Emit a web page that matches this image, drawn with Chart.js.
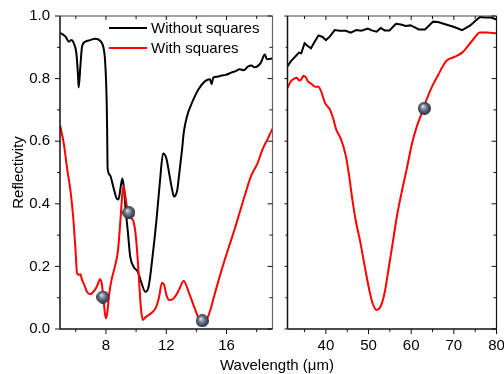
<!DOCTYPE html>
<html>
<head>
<meta charset="utf-8">
<script src="https://cdn.jsdelivr.net/npm/chart.js@4"></script>
<style>
  body { margin:0; background:#fff; }
  #wrap { position:relative; width:504px; height:374px; overflow:hidden; font-family:"Liberation Sans", Arial, sans-serif; }
  canvas { position:absolute; top:0; }
  #c1 { left:0; }
  #c2 { left:280px; }
  #xtitle { position:absolute; left:277px; top:357px; transform:translateX(-50%); font-size:15px; line-height:15px; white-space:nowrap; color:#000; }
</style>
</head>
<body>
<div id="wrap">
  <canvas id="c1" width="280" height="374"></canvas>
  <canvas id="c2" width="224" height="374"></canvas>
  <div id="xtitle">Wavelength (μm)</div>
</div>
<script>
// series names
const seriesNames = ["Without squares", "With squares"];

// left panel (5 - 19 um)
const wlBlackNear = [4.95, 5.32, 5.54, 5.71, 5.86, 6.04, 6.15, 6.19, 6.30, 6.41, 6.63, 6.95, 7.28, 7.61, 7.82, 7.92, 8.0, 8.05, 8.08, 8.11, 8.26, 8.48, 8.70, 8.83, 8.98, 9.09, 9.18, 9.31, 9.46, 9.61, 9.83, 10.11, 10.33, 10.61, 10.83, 11.09, 11.35, 11.59, 11.79, 12.01, 12.23, 12.44, 12.51, 12.73, 12.84, 13.05, 13.16, 13.38, 13.71, 14.14, 14.58, 14.90, 15.01, 15.12, 15.40, 15.67, 15.95, 16.32, 16.60, 16.87, 17.15, 17.41, 17.65, 17.85, 18.07, 18.28, 18.54, 18.67, 19.05];
const rBlackNear = [0.946, 0.934, 0.918, 0.923, 0.913, 0.88, 0.806, 0.772, 0.838, 0.902, 0.918, 0.923, 0.927, 0.921, 0.902, 0.87, 0.80, 0.72, 0.625, 0.513, 0.492, 0.455, 0.418, 0.414, 0.455, 0.481, 0.455, 0.38, 0.306, 0.231, 0.199, 0.183, 0.151, 0.119, 0.135, 0.231, 0.348, 0.476, 0.561, 0.545, 0.487, 0.434, 0.423, 0.444, 0.487, 0.574, 0.627, 0.68, 0.723, 0.766, 0.792, 0.798, 0.782, 0.803, 0.806, 0.81, 0.812, 0.819, 0.824, 0.83, 0.827, 0.838, 0.842, 0.836, 0.84, 0.851, 0.877, 0.862, 0.864];

const wlRedNear = [4.95, 5.21, 5.43, 5.65, 5.82, 5.97, 6.08, 6.18, 6.30, 6.41, 6.56, 6.74, 6.95, 7.17, 7.39, 7.61, 7.72, 7.82, 7.93, 8.0, 8.08, 8.22, 8.37, 8.59, 8.80, 8.96, 9.09, 9.18, 9.29, 9.46, 9.68, 9.83, 9.96, 10.11, 10.22, 10.33, 10.44, 10.66, 10.99, 11.31, 11.53, 11.71, 11.86, 12.01, 12.18, 12.40, 12.66, 12.84, 13.16, 13.49, 13.82, 14.14, 14.47, 14.80, 15.24, 15.67, 16.10, 16.54, 16.87, 17.20, 17.63, 18.07, 18.39, 18.72, 18.98, 19.05];
const rRedNear = [0.652, 0.59, 0.51, 0.44, 0.36, 0.26, 0.178, 0.173, 0.175, 0.157, 0.141, 0.119, 0.111, 0.119, 0.135, 0.159, 0.146, 0.103, 0.05, 0.034, 0.05, 0.114, 0.157, 0.199, 0.252, 0.348, 0.434, 0.455, 0.423, 0.37, 0.354, 0.343, 0.306, 0.22, 0.135, 0.061, 0.029, 0.039, 0.05, 0.068, 0.103, 0.148, 0.141, 0.109, 0.093, 0.094, 0.109, 0.125, 0.153, 0.118, 0.075, 0.036, 0.022, 0.043, 0.116, 0.188, 0.254, 0.319, 0.372, 0.425, 0.489, 0.531, 0.574, 0.606, 0.633, 0.64];

// right panel (31 - 80 um)
const wlBlackFar = [31.0, 31.82, 32.95, 33.70, 34.23, 35.0, 35.75, 36.5, 37.27, 38.25, 39.23, 40.0, 40.91, 42.05, 43.18, 44.68, 45.82, 47.11, 48.32, 49.84, 50.75, 51.89, 52.86, 53.77, 54.91, 56.43, 57.57, 58.70, 59.84, 60.98, 61.73, 63.25, 65.14, 66.27, 68.18, 70.07, 71.95, 73.86, 75.0, 76.14, 77.27, 78.77, 80.0];
const rBlackFar = [0.840, 0.856, 0.872, 0.883, 0.881, 0.913, 0.904, 0.897, 0.915, 0.938, 0.933, 0.923, 0.934, 0.955, 0.953, 0.953, 0.947, 0.955, 0.953, 0.96, 0.954, 0.95, 0.962, 0.954, 0.954, 0.975, 0.973, 0.968, 0.970, 0.963, 0.957, 0.957, 0.982, 0.981, 0.973, 0.965, 0.955, 0.970, 0.984, 0.997, 0.995, 0.995, 0.989];

const wlRedFar = [31.0, 31.82, 32.57, 33.18, 33.70, 34.23, 34.68, 35.23, 35.75, 36.73, 37.5, 38.25, 39.0, 39.77, 40.91, 41.66, 42.41, 43.55, 44.68, 45.45, 46.2, 46.95, 48.09, 49.23, 50.14, 50.91, 51.89, 52.86, 53.77, 54.68, 55.68, 56.66, 57.73, 58.93, 60.23, 61.36, 62.5, 63.64, 64.77, 66.27, 68.18, 70.07, 71.95, 74.23, 76.14, 77.64, 80.0];
const rRedFar = [0.771, 0.792, 0.80, 0.803, 0.794, 0.797, 0.808, 0.806, 0.792, 0.782, 0.774, 0.774, 0.755, 0.723, 0.702, 0.675, 0.638, 0.606, 0.553, 0.489, 0.414, 0.35, 0.276, 0.191, 0.127, 0.084, 0.061, 0.073, 0.116, 0.191, 0.276, 0.361, 0.435, 0.51, 0.595, 0.649, 0.691, 0.734, 0.771, 0.81, 0.856, 0.869, 0.883, 0.92, 0.947, 0.947, 0.945];

// sphere markers
const markNearX = [7.8, 9.52, 14.39];
const markNearY = [0.102, 0.372, 0.026];
const markFarX = [63.1];
const markFarY = [0.705];

// ticks
const yMajor = [0, 0.2, 0.4, 0.6, 0.8, 1.0];
const yMinor = [0.1, 0.3, 0.5, 0.7, 0.9];
const nearMajor = [8, 12, 16];
const nearMinor = [6, 10, 14, 18];
const farMajor = [40, 50, 60, 70, 80];
const farMinor = [35, 45, 55, 65, 75];

const FONT = '"Liberation Sans", Arial, sans-serif';
Chart.defaults.font.family = FONT;
Chart.defaults.font.size = 15;
Chart.defaults.color = "#000";

const pts = (xs, ys) => xs.map((x, i) => ({x: x, y: ys[i]}));

function makeBall(d) {
  const c = document.createElement("canvas");
  c.width = c.height = d;
  const g = c.getContext("2d");
  const r = d / 2;
  const grad = g.createRadialGradient(r * 0.75, r * 0.65, r * 0.05, r, r, r);
  grad.addColorStop(0, "#e4e8ef");
  grad.addColorStop(0.3, "#8c96aa");
  grad.addColorStop(0.75, "#454d5f");
  grad.addColorStop(1, "#23272f");
  g.fillStyle = grad;
  g.beginPath();
  g.arc(r, r, r, 0, Math.PI * 2);
  g.fill();
  return c;
}
const ball = makeBall(13);

// frame + tick marks drawn through the scales
function framePlugin(o) {
  return {
    id: "frame",
    afterDatasetsDraw(chart) {
      const {ctx, chartArea: a, scales: {x, y}} = chart;
      const seg = (x1, y1, x2, y2) => { ctx.beginPath(); ctx.moveTo(x1, y1); ctx.lineTo(x2, y2); ctx.stroke(); };
      ctx.save();
      ctx.strokeStyle = "#111";
      ctx.lineWidth = 1.5;
      seg(a.left, a.top, a.left, a.bottom);
      seg(a.left, a.bottom, a.right, a.bottom);
      ctx.strokeStyle = "#444";
      ctx.lineWidth = 1.2;
      seg(a.left, a.top, a.right, a.top);
      ctx.strokeStyle = o.rightColor;
      seg(a.right, a.top, a.right, a.bottom);
      ctx.strokeStyle = "#111";
      ctx.lineWidth = 1;
      o.xMajor.forEach(v => { const p = x.getPixelForValue(v); seg(p, a.bottom, p, a.bottom + 5); seg(p, a.top, p, a.top + 4); });
      o.xMinor.forEach(v => { const p = x.getPixelForValue(v); seg(p, a.bottom, p, a.bottom + 3); seg(p, a.top, p, a.top + 3); });
      yMajor.forEach(v => { const p = y.getPixelForValue(v); seg(a.left, p, a.left - o.leftMajor, p); seg(a.right, p, a.right - 5, p); });
      yMinor.forEach(v => { const p = y.getPixelForValue(v); seg(a.left, p, a.left - o.leftMinor, p); seg(a.right, p, a.right - 3, p); });
      ctx.restore();
    }
  };
}

const legendPlugin = {
  id: "innerLegend",
  afterDatasetsDraw(chart) {
    const ctx = chart.ctx;
    ctx.save();
    ctx.font = "15px " + FONT;
    ctx.textBaseline = "middle";
    ctx.textAlign = "left";
    [0, 1].forEach(i => {
      const ds = chart.data.datasets[i];
      const yy = 28 + 20 * i;
      ctx.strokeStyle = ds.borderColor;
      ctx.lineWidth = 2;
      ctx.beginPath(); ctx.moveTo(109, yy); ctx.lineTo(147, yy); ctx.stroke();
      ctx.fillStyle = "#000";
      ctx.fillText(ds.label, 151, yy + 0.5);
    });
    ctx.restore();
  }
};

function lineSet(label, color, data, order, tension) {
  return {
    type: "line", label: label, data: data, borderColor: color, borderWidth: 2,
    pointRadius: 0, fill: false, order: order,
    cubicInterpolationMode: tension ? "monotone" : "default", tension: 0
  };
}
function ballSet(data) {
  return { type: "scatter", label: "markers", data: data, pointStyle: ball, pointRadius: 6.5, order: 0, clip: false };
}

function xScale(min, max, major) {
  return {
    type: "linear", min: min, max: max,
    afterBuildTicks: s => { s.ticks = major.map(v => ({value: v})); },
    afterFit: s => { s.height = 45; s.paddingLeft = 0; s.paddingRight = 0; },
    grid: {display: false, drawTicks: false}, border: {display: false},
    ticks: {padding: 8, autoSkip: false, maxRotation: 0, font: {size: 15}, color: "#000", callback: v => String(v)}
  };
}

new Chart(document.getElementById("c1"), {
  type: "line",
  data: {
    datasets: [
      lineSet(seriesNames[0], "#000000", pts(wlBlackNear, rBlackNear), 2, true),
      lineSet(seriesNames[1], "#ff0000", pts(wlRedNear, rRedNear), 1, true),
      ballSet(pts(markNearX, markNearY))
    ]
  },
  options: {
    responsive: false, animation: false, devicePixelRatio: 1,
    layout: {padding: {top: 16, right: 4, left: 0, bottom: 0}},
    plugins: {legend: {display: false}, tooltip: {enabled: false}},
    scales: {
      x: xScale(4.95, 19.05, nearMajor),
      y: {
        type: "linear", min: 0, max: 1,
        afterBuildTicks: s => { s.ticks = yMajor.map(v => ({value: v})); },
        afterFit: s => { s.width = 60; s.paddingTop = 0; s.paddingBottom = 0; },
        grid: {display: false, drawTicks: false}, border: {display: false},
        ticks: {padding: 10, font: {size: 15}, color: "#000", callback: v => v.toFixed(1)},
        title: {display: true, text: "Reflectivity", font: {size: 15}, color: "#000", padding: {top: 10, bottom: 0}}
      }
    }
  },
  plugins: [framePlugin({xMajor: nearMajor, xMinor: nearMinor, leftMajor: 5, leftMinor: 3, rightColor: "#666"}), legendPlugin]
});

new Chart(document.getElementById("c2"), {
  type: "line",
  data: {
    datasets: [
      lineSet(seriesNames[0], "#000000", pts(wlBlackFar, rBlackFar), 2, false),
      lineSet(seriesNames[1], "#ff0000", pts(wlRedFar, rRedFar), 1, true),
      ballSet(pts(markFarX, markFarY))
    ]
  },
  options: {
    responsive: false, animation: false, devicePixelRatio: 1,
    layout: {padding: {top: 16, right: 6, left: 3, bottom: 0}},
    plugins: {legend: {display: false}, tooltip: {enabled: false}},
    scales: {
      x: xScale(31, 80, farMajor),
      y: {type: "linear", min: 0, max: 1, display: false}
    }
  },
  plugins: [framePlugin({xMajor: farMajor, xMinor: farMinor, leftMajor: 3, leftMinor: 2, rightColor: "#111"})]
});
</script>
</body>
</html>
